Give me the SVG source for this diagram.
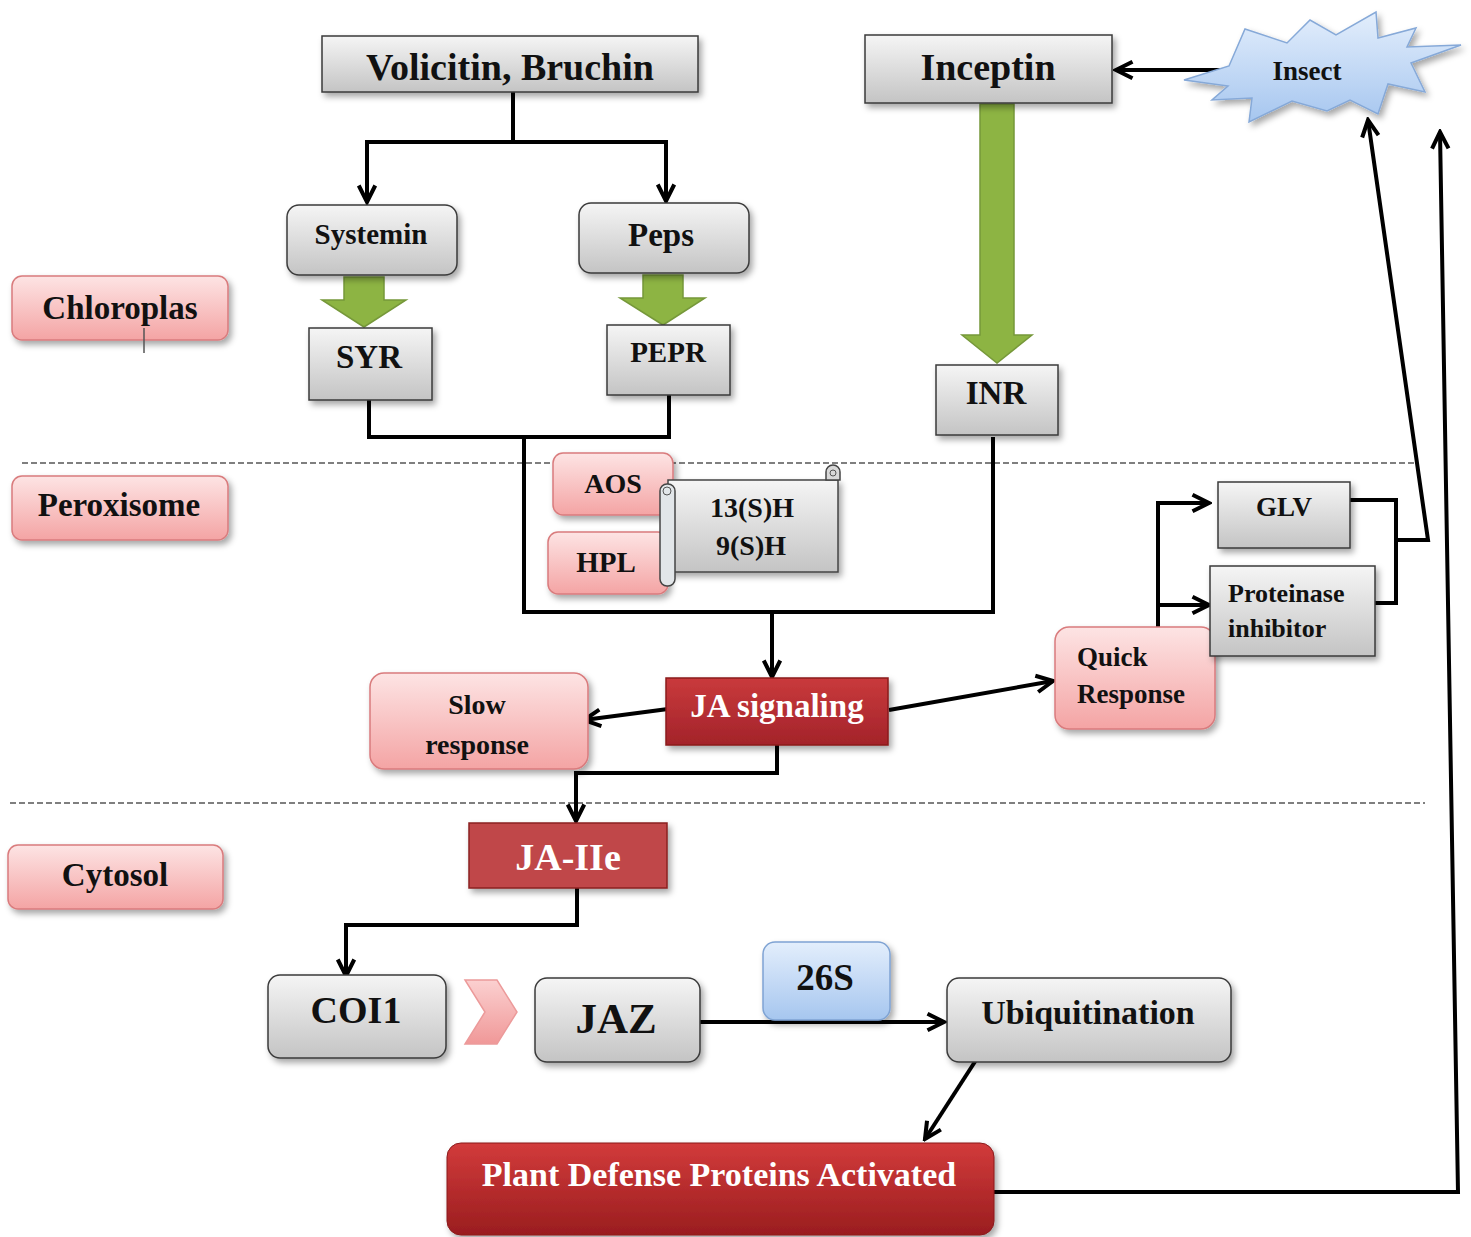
<svg xmlns="http://www.w3.org/2000/svg" width="1471" height="1237" viewBox="0 0 1471 1237">
<defs>
<linearGradient id="gGray" x1="0" y1="0" x2="0" y2="1"><stop offset="0" stop-color="#f5f5f5"/><stop offset="1" stop-color="#c4c4c4"/></linearGradient>
<linearGradient id="gPink" x1="0" y1="0" x2="0" y2="1"><stop offset="0" stop-color="#fde4e4"/><stop offset="1" stop-color="#f4a4a4"/></linearGradient>
<linearGradient id="gRed" x1="0" y1="0" x2="0" y2="1"><stop offset="0" stop-color="#c93a3c"/><stop offset="1" stop-color="#a3232a"/></linearGradient>
<linearGradient id="gRed2" x1="0" y1="0" x2="0" y2="1"><stop offset="0" stop-color="#d23b3b"/><stop offset="1" stop-color="#9a1d1f"/></linearGradient>
<linearGradient id="gBlue" x1="0" y1="0" x2="0" y2="1"><stop offset="0" stop-color="#e3eefc"/><stop offset="1" stop-color="#a6c6ef"/></linearGradient>
<linearGradient id="gChev" x1="0" y1="0" x2="0" y2="1"><stop offset="0" stop-color="#fbd0d0"/><stop offset="1" stop-color="#f09898"/></linearGradient>
<filter id="sh" x="-10%" y="-10%" width="130%" height="140%"><feDropShadow dx="3" dy="4" stdDeviation="3" flood-color="#000" flood-opacity="0.35"/></filter>
<marker id="arr" viewBox="0 0 12 12" refX="10.5" refY="6" markerWidth="22" markerHeight="22" markerUnits="userSpaceOnUse" orient="auto">
<path d="M1.5,1.5 L10.5,6 L1.5,10.5" fill="none" stroke="#000" stroke-width="2.2" stroke-linejoin="miter"/>
</marker>
<style>
.gray{fill:url(#gGray);stroke:#3a3a3a;stroke-width:1.5;filter:url(#sh)}
.pink{fill:url(#gPink);stroke:#d97b7d;stroke-width:1.5;filter:url(#sh)}
.red{fill:url(#gRed);stroke:#8a1a1c;stroke-width:1.5;filter:url(#sh)}
.green{fill:#8db443;stroke:#76983a;stroke-width:1.5}
.t{font-family:"Liberation Serif","Times New Roman",serif;font-weight:bold;fill:#111;text-anchor:middle}
.w{fill:#fff}
.c{fill:none;stroke:#000;stroke-width:4}
.ca{fill:none;stroke:#000;stroke-width:4;marker-end:url(#arr)}
.dash{stroke:#555;stroke-width:1.5;stroke-dasharray:6,3}
</style>
</defs>
<rect width="1471" height="1237" fill="#fff"/>

<g id="dividers">
<line class="dash" x1="22" y1="463" x2="1418" y2="463"/>
<line class="dash" x1="10" y1="803" x2="1425" y2="803"/>
</g>

<g id="connectors">
<path class="ca" d="M513,92 V142 H367 V202"/>
<path class="ca" d="M513,142 H666 V201"/>
<path class="c" d="M369,400 V437 H669 V395"/>
<path class="c" d="M524,437 V612 H993 V437"/>
<path class="ca" d="M772,612 V677"/>
<path class="ca" d="M668,709 L584,720"/>
<path class="ca" d="M889,710 L1053,681"/>
<path class="ca" d="M777,745 V773 H576 V821"/>
<path class="ca" d="M577,888 V925 H346 V976"/>
<path class="ca" d="M700,1022 H944"/>
<path class="ca" d="M978,1057 L925,1139"/>
<path class="ca" d="M994,1192 H1458 L1440,132"/>
<path class="ca" d="M1158,630 V503 H1209"/>
<path class="ca" d="M1158,605 H1209"/>
<path class="c" d="M1350,500 H1396 V603 H1375"/>
<path class="ca" d="M1396,540 H1428 L1368,120"/>
<path class="ca" d="M1232,70 H1116"/>
</g>

<g id="green-arrows">
<polygon class="green" points="344,277 384,277 384,300 406,300 364,327 322,300 344,300"/>
<polygon class="green" points="643,275 683,275 683,298 705,298 663,325 620,298 643,298"/>
<polygon class="green" points="980,104 1014,104 1014,335 1032,335 997,363 962,335 980,335"/>
</g>

<g id="n-volicitin"><rect class="gray" x="322" y="36" width="376" height="56"/><text class="t" x="510" y="80" font-size="38">Volicitin, Bruchin</text></g>
<g id="n-inceptin"><rect class="gray" x="865" y="35" width="247" height="68"/><text class="t" x="988" y="80" font-size="38">Inceptin</text></g>
<g id="n-insect">
<polygon points="1184,80 1229,66 1245,29 1287,43 1310,20 1336,35 1376,12 1378,38 1416,28 1407,47 1461,45 1411,63 1425,92 1388,84 1378,114 1350,100 1327,111 1292,101 1249,122 1252,98 1212,100 1228,86" fill="url(#gBlue)" stroke="#86a9d8" stroke-width="1.5" filter="url(#sh)"/>
<text class="t" x="1307" y="80" font-size="27">Insect</text></g>
<g id="n-systemin"><rect class="gray" x="287" y="205" width="170" height="70" rx="12"/><text class="t" x="371" y="244" font-size="29">Systemin</text></g>
<g id="n-peps"><rect class="gray" x="579" y="203" width="170" height="70" rx="12"/><text class="t" x="661" y="246" font-size="33">Peps</text></g>
<g id="n-syr"><rect class="gray" x="309" y="328" width="123" height="72"/><text class="t" x="369" y="368" font-size="33">SYR</text></g>
<g id="n-pepr"><rect class="gray" x="607" y="325" width="123" height="70"/><text class="t" x="668" y="362" font-size="29">PEPR</text></g>
<g id="n-inr"><rect class="gray" x="936" y="365" width="122" height="70"/><text class="t" x="996" y="404" font-size="33">INR</text></g>

<g id="n-chloroplas"><rect class="pink" x="12" y="276" width="216" height="64" rx="10"/><text class="t" x="120" y="319" font-size="33">Chloroplas</text><line x1="144" y1="328" x2="144" y2="353" stroke="#555" stroke-width="1.5"/></g>
<g id="n-peroxisome"><rect class="pink" x="12" y="476" width="216" height="64" rx="10"/><text class="t" x="119" y="516" font-size="33">Peroxisome</text></g>
<g id="n-cytosol"><rect class="pink" x="8" y="845" width="215" height="64" rx="10"/><text class="t" x="115" y="886" font-size="33">Cytosol</text></g>

<g id="n-aos"><rect class="pink" x="553" y="453" width="120" height="62" rx="10"/><text class="t" x="613" y="493" font-size="28">AOS</text></g>
<g id="n-hpl"><rect class="pink" x="548" y="532" width="120" height="62" rx="10"/><text class="t" x="606" y="572" font-size="29">HPL</text></g>
<g id="n-scroll">
<rect x="668" y="480" width="170" height="92" fill="url(#gGray)" stroke="#444" stroke-width="1.5" filter="url(#sh)"/>
<path d="M826,480 V472 A7,7 0 0 1 840,472 V480 Z" fill="#d8d8d8" stroke="#444" stroke-width="1.5"/>
<circle cx="833" cy="473" r="3" fill="none" stroke="#555" stroke-width="1"/>
<rect x="660" y="484" width="15" height="102" rx="7" fill="#e2e6e9" stroke="#444" stroke-width="1.5"/>
<circle cx="667" cy="491" r="4" fill="none" stroke="#555" stroke-width="1"/>
<text class="t" x="752" y="517" font-size="28">13(S)H</text>
<text class="t" x="751" y="555" font-size="28">9(S)H</text></g>

<g id="n-jasignaling"><rect class="red" x="666" y="678" width="222" height="67"/><text class="t w" x="777" y="717" font-size="33">JA signaling</text></g>
<g id="n-slow"><rect class="pink" x="370" y="673" width="218" height="96" rx="14"/><text class="t" x="477" y="714" font-size="28">Slow</text><text class="t" x="477" y="754" font-size="28">response</text></g>
<g id="n-quick"><rect class="pink" x="1055" y="627" width="160" height="102" rx="14"/><text class="t" x="1077" y="666" font-size="27" style="text-anchor:start">Quick</text><text class="t" x="1077" y="703" font-size="27" style="text-anchor:start">Response</text></g>
<g id="n-glv"><rect class="gray" x="1218" y="482" width="132" height="66"/><text class="t" x="1284" y="516" font-size="27">GLV</text></g>
<g id="n-proteinase"><rect class="gray" x="1210" y="566" width="165" height="90"/><text class="t" x="1228" y="602" font-size="26" style="text-anchor:start">Proteinase</text><text class="t" x="1228" y="637" font-size="26" style="text-anchor:start">inhibitor</text></g>

<g id="n-jaile"><rect x="469" y="823" width="198" height="65" fill="#c0474a" stroke="#8b2020" stroke-width="1.5" filter="url(#sh)"/><text class="t w" x="568" y="870" font-size="38">JA-IIe</text></g>
<g id="n-coi1"><rect class="gray" x="268" y="975" width="178" height="83" rx="12"/><text class="t" x="356" y="1023" font-size="38">COI1</text></g>
<g id="n-chevron"><polygon points="465,980 497,980 517,1012 497,1044 465,1044 485,1012" fill="url(#gChev)" stroke="#ec9a9a" stroke-width="1.5"/></g>
<g id="n-jaz"><rect class="gray" x="535" y="978" width="165" height="84" rx="12"/><text class="t" x="616" y="1033" font-size="43">JAZ</text></g>
<g id="n-26s"><rect x="763" y="942" width="127" height="78" rx="12" fill="url(#gBlue)" stroke="#7fa3d3" stroke-width="1.5" filter="url(#sh)"/><text class="t" x="825" y="990" font-size="37">26S</text></g>
<g id="n-ubiq"><rect class="gray" x="947" y="978" width="284" height="84" rx="12"/><text class="t" x="1088" y="1024" font-size="34">Ubiquitination</text></g>
<g id="n-plant"><rect x="447" y="1143" width="547" height="92" rx="14" fill="url(#gRed2)" stroke="#8a1a1c" stroke-width="1" filter="url(#sh)"/><text class="t w" x="719" y="1186" font-size="34">Plant Defense Proteins Activated</text></g>
</svg>
